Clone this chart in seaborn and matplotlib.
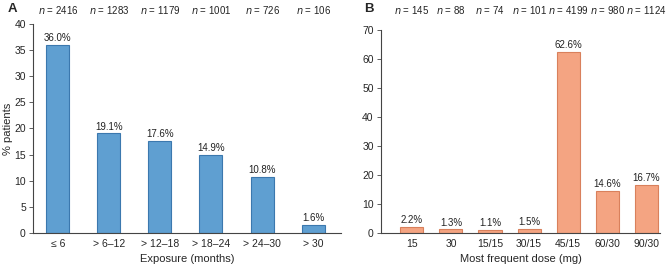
import pandas as pd
import seaborn as sns
import matplotlib.pyplot as plt

exposure = ['≤ 6', '> 6–12', '> 12–18', '> 18–24', '> 24–30', '> 30']
exposure_pct = [36.0, 19.1, 17.6, 14.9, 10.8, 1.6]
exposure_n = [2416, 1283, 1179, 1001, 726, 106]

dose = ['15', '30', '15/15', '30/15', '45/15', '60/30', '90/30']
dose_pct = [2.2, 1.3, 1.1, 1.5, 62.6, 14.6, 16.7]
dose_n = [145, 88, 74, 101, 4199, 980, 1124]

sns.set_style('white')
plt.rcParams['font.family'] = ['Liberation Sans', 'DejaVu Sans']

fig = plt.figure(figsize=(6.69, 2.66), dpi=100)
ax_a = fig.add_axes([0.049, 0.124, 0.461, 0.786])
ax_b = fig.add_axes([0.569, 0.124, 0.418, 0.763])


def panel(ax, cats, pct, ns, color, edge, width, ymax, ystep, xlim, xlabel, ny):
    df = pd.DataFrame({'cat': cats, 'pct': pct})
    sns.barplot(x='cat', y='pct', data=df, ax=ax, color=color, width=width,
                edgecolor=edge, linewidth=0.8, saturation=1)
    for i, (p, n) in enumerate(zip(pct, ns)):
        ax.text(i, p + ymax * 0.008, f'{p:.1f}%', ha='center', va='bottom',
                fontsize=7, color='#222222')
        ax.text(i, ny, f'$n$ = {n}',
                transform=ax.get_xaxis_transform(), ha='center', va='bottom',
                fontsize=7, color='#222222')
    ax.set_ylim(0, ymax)
    ax.set_yticks(range(0, ymax + 1, ystep))
    ax.set_xlim(*xlim)
    ax.set_xlabel(xlabel, fontsize=8, labelpad=4)
    ax.set_ylabel('')
    for s in ['top', 'right']:
        ax.spines[s].set_visible(False)
    for s in ['left', 'bottom']:
        ax.spines[s].set_color('#444444')
        ax.spines[s].set_linewidth(0.8)
    ax.tick_params(axis='y', length=3, width=0.6, pad=2, left=True,
                   color='#444444', labelsize=7.5)
    ax.tick_params(axis='x', length=0, pad=4, labelsize=7.5)


panel(ax_a, exposure, exposure_pct, exposure_n, '#5f9fd1', '#3b78ae', 0.45,
      40, 5, (-0.49, 5.55), 'Exposure (months)', 1.04)
ax_a.set_ylabel('% patients', fontsize=8, labelpad=1)

panel(ax_b, dose, dose_pct, dose_n, '#f4a482', '#d9805c', 0.59,
      70, 10, (-0.8, 6.36), 'Most frequent dose (mg)', 1.07)

fig.text(0.012, 0.955, 'A', fontsize=9.5, fontweight='bold')
fig.text(0.544, 0.955, 'B', fontsize=9.5, fontweight='bold')

fig.savefig('out.png', dpi=100)
